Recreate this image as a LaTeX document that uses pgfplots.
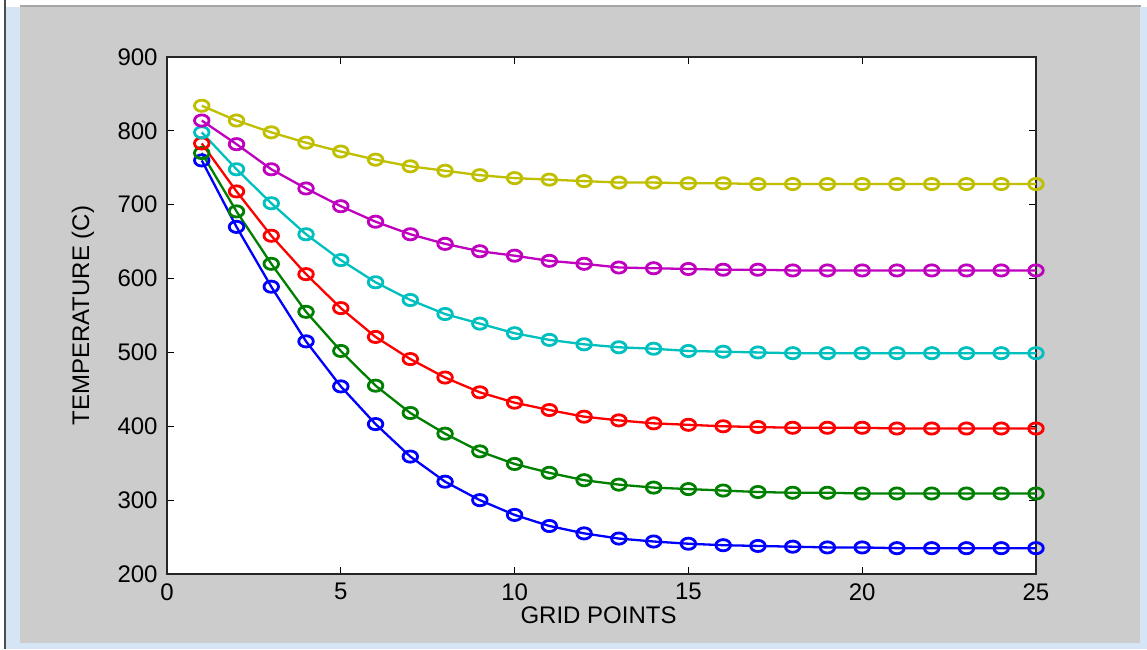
\documentclass[border=0pt]{standalone}
\usepackage{fontspec}
\setmainfont{Liberation Sans}
\usepackage{pgfplots}
\pgfplotsset{compat=1.18}

\definecolor{mlgray}{HTML}{CCCCCC}
\definecolor{frameblue}{HTML}{D6E5F5}
\definecolor{mlyellow}{rgb}{0.75,0.75,0}
\definecolor{mlmagenta}{rgb}{0.75,0,0.75}
\definecolor{mlcyan}{rgb}{0,0.75,0.75}
\definecolor{mlgreen}{rgb}{0,0.5,0}

\begin{document}
\begin{tikzpicture}
% window frame and figure background (1px = 0.5pt)
\useasboundingbox (0,0) rectangle (573.5pt,324.5pt);
\fill[white] (0,0) rectangle (573.5pt,324.5pt);
\fill[frameblue] (3pt,0) rectangle (573.5pt,321pt);
\draw[black!70, line width=1pt] (2.25pt,0) -- (2.25pt,324.5pt);
\draw[black!35, line width=1pt] (10pt,321.5pt) -- (570.5pt,321.5pt);
\fill[mlgray] (10pt,3pt) rectangle (570pt,321pt);

\begin{axis}[
    at={(83.5pt,37.5pt)}, anchor=south west,
    scale only axis,
    width=434.5pt, height=258.5pt,
    xmin=0, xmax=25, ymin=200, ymax=900,
    xtick={0,5,...,25}, ytick={200,300,...,900},
    tick pos=both, tick align=inside,
    major tick length=3.5pt,
    tick style={black, line width=0.6pt},
    axis line style={black!85, line width=0.7pt},
    axis background/.style={fill=white},
    clip=false,
    /pgf/number format/assume math mode=true,
    ticklabel style={font=\fontsize{12}{14}\selectfont, inner sep=0pt},
    xticklabel style={anchor=north, yshift=-4.5pt},
    yticklabel style={anchor=east, xshift=-4.5pt},
    label style={font=\fontsize{12}{14}\selectfont},
    xlabel={GRID POINTS},
    ylabel={TEMPERATURE (C)},
    xlabel style={at={(axis description cs:0.4966,-0.0793)}, anchor=center},
    ylabel style={at={(axis description cs:-0.0967,0.5)}, anchor=center},
    every axis plot/.append style={line width=1.15pt, mark=o, mark size=2.8pt,
        mark options={solid, line width=1.4pt, xscale=1.3}},
]
\addplot[blue] coordinates {
(1,760) (2,670) (3,589) (4,515) (5,454) (6,403) (7,359) (8,325) (9,300) (10,280)
(11,265) (12,255) (13,248) (14,244) (15,241) (16,239) (17,238) (18,237) (19,236) (20,236)
(21,235) (22,235) (23,235) (24,235) (25,235)};
\addplot[mlgreen] coordinates {
(1,770) (2,691) (3,620) (4,555) (5,502) (6,455) (7,418) (8,390) (9,366) (10,349)
(11,337) (12,327) (13,321) (14,317) (15,315) (16,313) (17,311) (18,310) (19,310) (20,309)
(21,309) (22,309) (23,309) (24,309) (25,309)};
\addplot[red] coordinates {
(1,783) (2,718) (3,658) (4,606) (5,560) (6,521) (7,491) (8,466) (9,446) (10,432)
(11,422) (12,413) (13,408) (14,404) (15,402) (16,400) (17,399) (18,398) (19,398) (20,398)
(21,397) (22,397) (23,397) (24,397) (25,397)};
\addplot[mlcyan] coordinates {
(1,798) (2,748) (3,702) (4,660) (5,625) (6,595) (7,571) (8,552) (9,539) (10,526)
(11,517) (12,511) (13,507) (14,505) (15,502) (16,501) (17,500) (18,499) (19,499) (20,499)
(21,499) (22,499) (23,499) (24,499) (25,499)};
\addplot[mlmagenta] coordinates {
(1,814) (2,782) (3,748) (4,722) (5,698) (6,677) (7,660) (8,647) (9,637) (10,631)
(11,624) (12,620) (13,615) (14,614) (15,613) (16,612) (17,612) (18,611) (19,611) (20,611)
(21,611) (22,611) (23,611) (24,611) (25,611)};
\addplot[mlyellow] coordinates {
(1,834) (2,814) (3,798) (4,784) (5,772) (6,761) (7,752) (8,746) (9,740) (10,736)
(11,734) (12,732) (13,730) (14,730) (15,729) (16,729) (17,728) (18,728) (19,728) (20,728)
(21,728) (22,728) (23,728) (24,728) (25,728)};
\end{axis}
\end{tikzpicture}
\end{document}
